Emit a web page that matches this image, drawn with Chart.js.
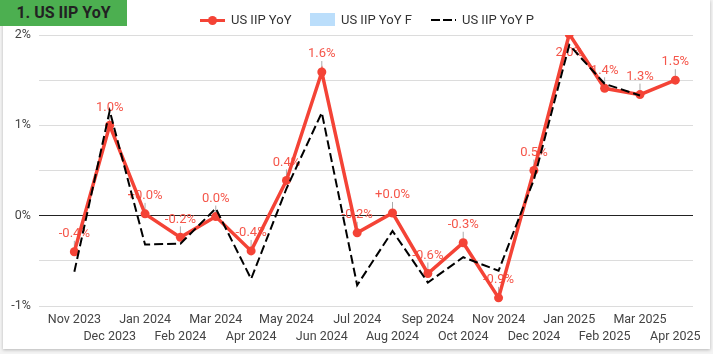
<!DOCTYPE html>
<html>
<head>
<meta charset="utf-8">
<script src="https://cdn.jsdelivr.net/npm/chart.js@4.4.1/dist/chart.umd.min.js"></script>
<style>
  html, body { margin: 0; padding: 0; background: #f3f3f3; }
  body { width: 713px; height: 354px; position: relative; overflow: hidden; font-family: Roboto, sans-serif; }
  #card { position: absolute; left: 3px; top: 0; width: 707px; height: 349px; background: #fff;
          box-shadow: 0 1px 3px rgba(0,0,0,0.25); }
  #title { position: absolute; left: 0; top: 0; width: 127px; height: 26px; background: #4caf50;
           color: #222; font-weight: bold; font-size: 16px; line-height: 26px; text-align: center; }
  #legend { position: absolute; top: 12px; left: 200px; font-size: 13px; color: #333; white-space: nowrap; }
  .item { position: absolute; top: 0; height: 16px; line-height: 16px; }
  .sw { position: absolute; top: 0; width: 25px; height: 16px; }
  .txt { position: absolute; left: 31px; top: 0; }
  #wrap { position: absolute; left: 0; top: 0; width: 713px; height: 354px; }
</style>
</head>
<body>
<div id="card"></div>
<div id="wrap"><canvas id="chart"></canvas></div>
<div id="title">1. US IIP YoY</div>
<div id="legend">
  <div class="item" style="left:0">
    <span class="sw"><span style="position:absolute;left:0;top:7px;width:25px;height:3px;background:#f44336"></span>
      <span style="position:absolute;left:8px;top:4px;width:9px;height:9px;border-radius:50%;background:#f44336"></span></span>
    <span class="txt">US IIP YoY</span>
  </div>
  <div class="item" style="left:110px">
    <span class="sw" style="top:1px;height:13px;background:#bbdefb"></span>
    <span class="txt">US IIP YoY F</span>
  </div>
  <div class="item" style="left:231px">
    <span class="sw"><span style="position:absolute;left:0;top:7px;width:25px;height:2px;
      background:repeating-linear-gradient(90deg,#000 0 9px,transparent 9px 12px)"></span></span>
    <span class="txt">US IIP YoY P</span>
  </div>
</div>
<script>
// chart data
const months = ['Nov 2023', 'Dec 2023', 'Jan 2024', 'Feb 2024', 'Mar 2024', 'Apr 2024',
  'May 2024', 'Jun 2024', 'Jul 2024', 'Aug 2024', 'Sep 2024', 'Oct 2024',
  'Nov 2024', 'Dec 2024', 'Jan 2025', 'Feb 2025', 'Mar 2025', 'Apr 2025'];
const actual = [-0.40, 1.00, 0.02, -0.24, -0.01, -0.39, 0.39, 1.59, -0.19, 0.03,
  -0.64, -0.30, -0.91, 0.50, 2.01, 1.41, 1.34, 1.50];
const forecast = months.map(() => null);
const previous = [-0.62, 1.16, -0.32, -0.31, 0.08, -0.70, 0.30, 1.14, -0.77, -0.17,
  -0.74, -0.46, -0.61, 0.40, 1.89, 1.46, 1.33, null];
const yTicks = [-1, 0, 1, 2];

const pts = arr => arr.map((v, i) => ({ x: i, y: v }));

function fmt(v) {
  let s = v.toFixed(1);
  if (s === '-0.0') s = '0.0';
  if (s === '0.0' && v > 0) s = '+0.0';
  return s + '%';
}

// value labels with small leader lines, drawn under the lines
const valueLabels = {
  id: 'valueLabels',
  beforeDatasetsDraw(chart) {
    const ctx = chart.ctx;
    const meta = chart.getDatasetMeta(0);
    const area = chart.chartArea;
    ctx.save();
    ctx.font = '13px Roboto, sans-serif';
    ctx.textAlign = 'center';
    ctx.textBaseline = 'middle';
    meta.data.forEach((p, i) => {
      const v = actual[i];
      if (v == null) return;
      const below = p.y - 24 < area.top;
      if (!below) {
        ctx.strokeStyle = '#aaa';
        ctx.lineWidth = 1;
        ctx.beginPath();
        ctx.moveTo(p.x, p.y - 4);
        ctx.lineTo(p.x, p.y - 11);
        ctx.stroke();
      }
      ctx.fillStyle = '#f5564a';
      ctx.fillText(fmt(v), p.x, below ? p.y + 19 : p.y - 18);
    });
    ctx.restore();
  }
};

new Chart(document.getElementById('chart'), {
  data: {
    datasets: [
      {
        type: 'line', label: 'US IIP YoY', data: pts(actual), order: 2,
        borderColor: '#f44336', backgroundColor: '#f44336', borderWidth: 3.5,
        pointRadius: 4.5, pointBackgroundColor: '#f44336', pointBorderWidth: 0, tension: 0
      },
      {
        type: 'bar', label: 'US IIP YoY F', data: pts(forecast), order: 3,
        backgroundColor: '#bbdefb'
      },
      {
        type: 'line', label: 'US IIP YoY P', data: pts(previous), order: 1,
        borderColor: '#000', borderWidth: 2, borderDash: [9, 4],
        pointRadius: 0, tension: 0, spanGaps: false
      }
    ]
  },
  options: {
    responsive: true,
    maintainAspectRatio: false,
    animation: false,
    layout: { padding: { top: 35, right: 20, left: 0, bottom: 8 } },
    plugins: { legend: { display: false }, tooltip: { enabled: false } },
    scales: {
      x: {
        type: 'linear', min: -1, max: 17.5, offset: false,
        grid: { display: false, drawTicks: false, offset: false },
        border: { display: false },
        afterBuildTicks: s => { s.ticks = months.map((m, i) => ({ value: i })); },
        afterFit: s => { s.height = 40; },
        ticks: {
          autoSkip: false, maxRotation: 0, padding: 6,
          color: '#444', font: { size: 12.5, family: 'Roboto', lineHeight: 1.3 },
          callback: v => {
            if (!Number.isInteger(v) || v < 0 || v >= months.length) return '';
            return v % 2 === 0 ? [months[v]] : ['', months[v]];
          }
        }
      },
      y: {
        min: -1, max: 2,
        grid: {
          drawTicks: false,
          color: c => c.tick.value === 0 ? '#222' : '#dcdcdc',
          lineWidth: 1
        },
        border: { display: false },
        afterFit: s => { s.width = 39; },
        ticks: {
          stepSize: 0.5, padding: 8, color: '#444',
          font: { size: 12.5, family: 'Roboto' },
          callback: v => yTicks.includes(v) ? v + '%' : ''
        }
      }
    }
  },
  plugins: [valueLabels]
});
</script>
</body>
</html>
